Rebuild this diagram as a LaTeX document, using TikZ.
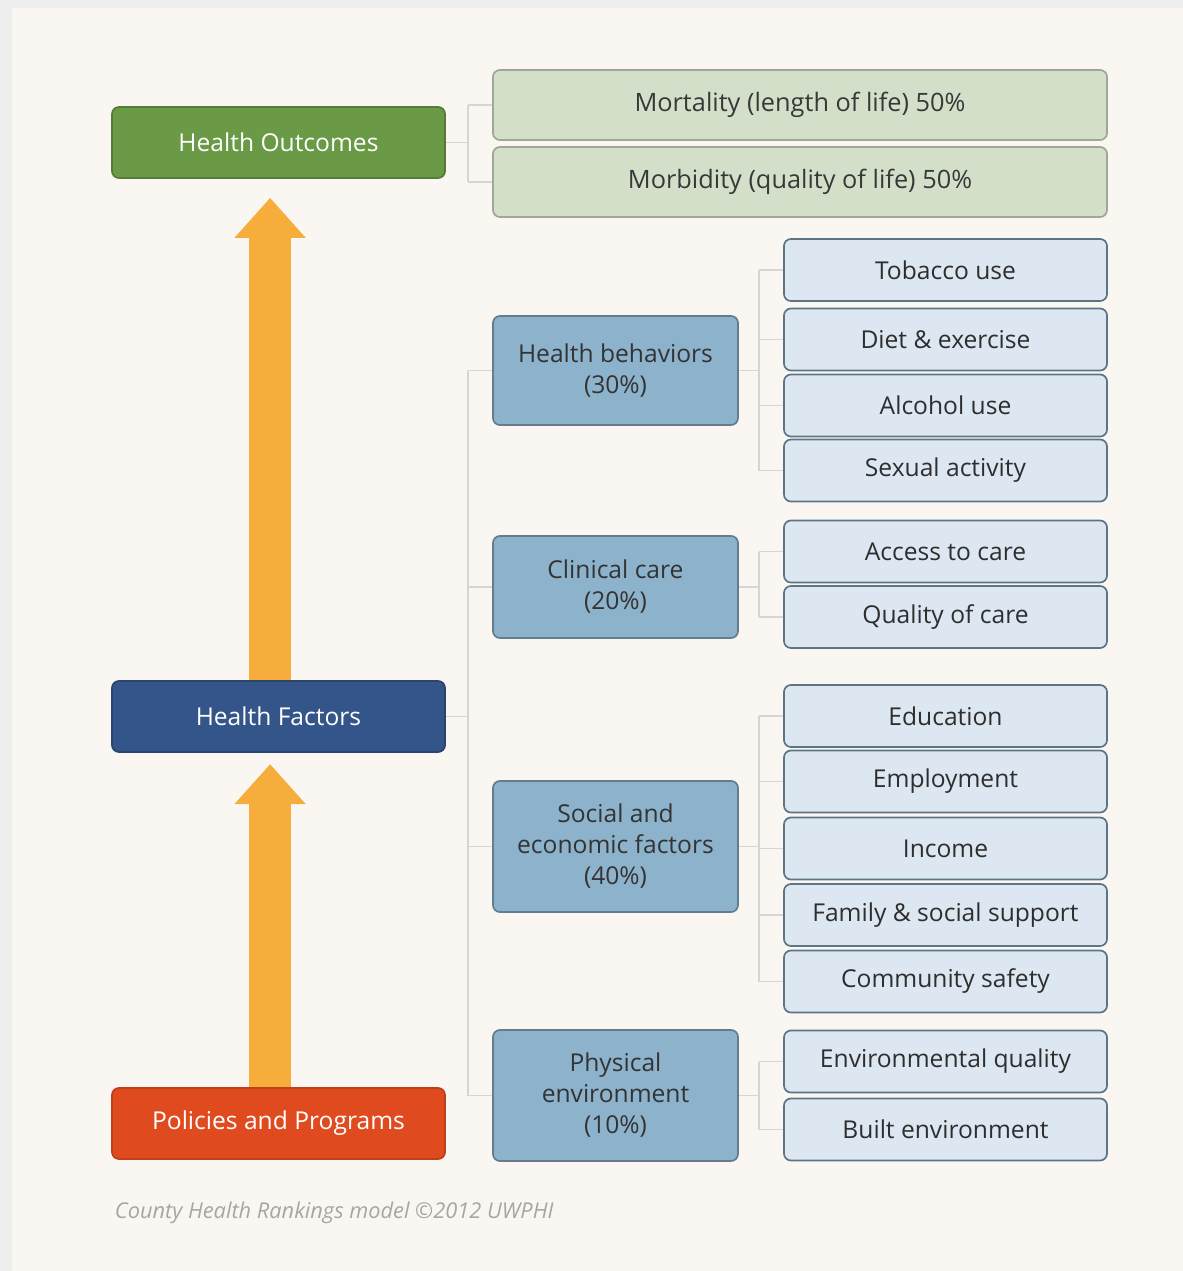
\documentclass[tikz,border=0pt]{standalone}
\usepackage{fontspec}
\setmainfont{Open Sans}
\usepackage{tikz}
\usetikzlibrary{arrows.meta}
\definecolor{bgcream}{HTML}{FAF7F2}
\definecolor{bggray}{HTML}{EEEEEE}
\definecolor{outgreen}{HTML}{6A9A45}
\definecolor{facblue}{HTML}{34558A}
\definecolor{polred}{HTML}{E04A1F}
\definecolor{arroworange}{HTML}{F6AD3B}
\definecolor{outlight}{HTML}{D4DFCA}
\definecolor{catblue}{HTML}{8DB3CC}
\definecolor{itemblue}{HTML}{DCE7F1}
\definecolor{linkgray}{HTML}{D6D6D6}
\tikzset{
  every picture/.style={x=0.025cm, y=-0.025cm},
  box/.style={rectangle, rounded corners=5pt, line width=1.2pt, align=center,
    font=\fontsize{17.5}{22}\selectfont, inner sep=2pt},
  topbox/.style={box, minimum width=8.325cm, minimum height=1.775cm,
    text=white, font=\fontsize{17.5}{22}\selectfont},
  outbox/.style={box, fill=outlight, draw=outlight!75!black, text=black!78,
    minimum width=15.35cm, minimum height=1.75cm, font=\fontsize{18}{22}\selectfont},
  catbox/.style={box, fill=catblue, draw=catblue!70!black, text=black!80,
    minimum width=6.125cm},
  itembox/.style={box, fill=itemblue, draw=catblue!65!black, text=black!82,
    minimum width=8.075cm, minimum height=1.55cm},
  link/.style={draw=linkgray, line width=0.9pt},
  uparrow/.style={draw=arroworange, line width=30pt,
    -{Triangle[width=49pt, length=28.5pt]}}
}

\begin{document}
\begin{tikzpicture}
  % page and background
  \fill[bggray] (0,0) rectangle (1183,1271);
  \fill[bgcream] (12,8) rectangle (1183,1271);
  \useasboundingbox (0,0) rectangle (1183,1271);

  % left column
  \node[topbox, fill=outgreen, draw=outgreen!80!black] (hout) at (278.5,142.5) {Health Outcomes};
  \node[topbox, fill=facblue, draw=facblue!80!black] (hfac) at (278.5,716.5) {Health Factors};
  \node[topbox, fill=polred, draw=polred!85!black] (pol) at (278.5,1123.5) {Policies and Programs};

  \draw[uparrow, shorten >=13.5pt] ([xshift=-0.21cm]hfac.north) -- ([xshift=-0.21cm]hout.south);
  \draw[uparrow, shorten >=8pt] ([xshift=-0.21cm]pol.north) -- ([xshift=-0.21cm]hfac.south);

  % outcomes
  \node[outbox] (mort) at (800,105) {Mortality (length of life) 50\%};
  \node[outbox] (morb) at (800,182) {Morbidity (quality of life) 50\%};

  % factors
  \node[catbox, minimum height=2.725cm] (beh) at (615.5,370.5) {Health behaviors\\(30\%)};
  \node[catbox, minimum height=2.55cm] (clin) at (615.5,587) {Clinical care\\(20\%)};
  \node[catbox, minimum height=3.275cm] (soc) at (615.5,846.5) {Social and\\economic factors\\(40\%)};
  \node[catbox, minimum height=3.275cm] (phys) at (615.5,1095.5) {Physical\\environment\\(10\%)};

  \node[itembox] (tob) at (945.5,270) {Tobacco use};
  \node[itembox] (diet) at (945.5,339.5) {Diet \& exercise};
  \node[itembox] (alc) at (945.5,405.5) {Alcohol use};
  \node[itembox] (sex) at (945.5,470.5) {Sexual activity};
  \node[itembox] (acc) at (945.5,551.5) {Access to care};
  \node[itembox] (qual) at (945.5,617) {Quality of care};
  \node[itembox] (edu) at (945.5,716) {Education};
  \node[itembox] (emp) at (945.5,781.5) {Employment};
  \node[itembox] (inc) at (945.5,848.5) {Income};
  \node[itembox] (fam) at (945.5,915) {Family \& social support};
  \node[itembox] (com) at (945.5,981.5) {Community safety};
  \node[itembox] (env) at (945.5,1061.5) {Environmental quality};
  \node[itembox] (built) at (945.5,1129.5) {Built environment};

  % connectors
  \draw[link] (hout.east) -- ++(22,0) coordinate (jout);
  \draw[link] (jout |- mort.west) -- (jout |- morb.west);
  \foreach \c in {mort,morb}
    \draw[link] (jout |- \c.west) -- (\c.west);

  \draw[link] (hfac.east) -- ++(22,0) coordinate (jfac);
  \draw[link] (jfac |- beh.west) -- (jfac |- phys.west);
  \foreach \c in {beh,clin,soc,phys}
    \draw[link] (jfac |- \c.west) -- (\c.west);

  \foreach \p/\first/\last/\kids in {beh/tob/sex/{tob,diet,alc,sex},
      clin/acc/qual/{acc,qual},
      soc/edu/com/{edu,emp,inc,fam,com},
      phys/env/built/{env,built}} {
    \draw[link] (\p.east) -- ++(20,0) coordinate (jk);
    \draw[link] (jk |- \first.west) -- (jk |- \last.west);
    \foreach \c in \kids
      \draw[link] (jk |- \c.west) -- (\c.west);
  }

  % source line
  \node[anchor=west, text=black!35, font=\fontsize{15.5}{17}\selectfont\itshape] (src)
    at (110,1213) {County Health Rankings model \textcopyright2012 UWPHI};
\end{tikzpicture}
\end{document}
